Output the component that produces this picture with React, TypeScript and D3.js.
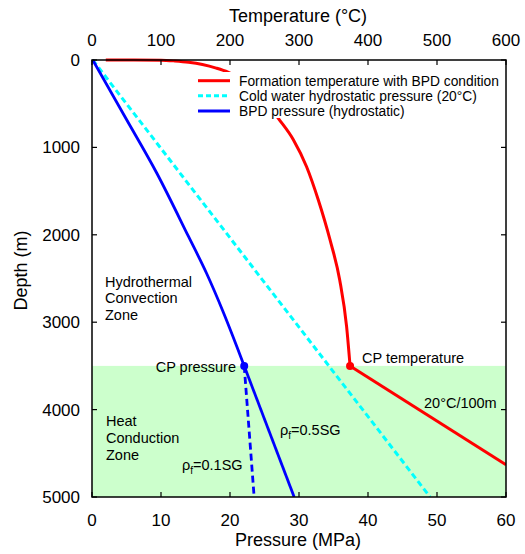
import * as d3 from "d3";

// axes
const pressureTicks = [0, 10, 20, 30, 40, 50, 60];
const tempTicks = [0, 100, 200, 300, 400, 500, 600];
const depthTicks = [0, 1000, 2000, 3000, 4000, 5000];

// formation temperature, boiling point with depth
const bpdDepth = [0, 0, 2, 11, 26, 52, 93, 140, 300, 450, 667, 915, 1221, 1602, 2059, 2517, 3051, 3500];
const bpdTemp = [20, 60, 100, 120, 140, 160, 180, 197, 230, 250, 270, 292, 311, 328, 345, 359, 369, 374];

// conduction zone, 20°C/100m
const condDepth = [3500, 4630];
const condTemp = [374, 600];

// cold water hydrostatic pressure (20°C)
const coldDepth = [0, 5000];
const coldP = [0.1, 49.0];

// BPD pressure (hydrostatic)
const bpdPDepth = [0, 667, 1296, 2022, 2440, 2880, 3280, 3500];
const bpdP = [0.1, 4.9, 9.4, 14.0, 16.6, 19.0, 21.0, 22.06];

// below critical point
const belowDepth = [3500, 5000];
const sg05P = [22.06, 29.3];
const sg01P = [22.06, 23.5];

const cp = { depth: 3500, p: 22.06, t: 374 };

const W = 525, H = 554;
const m = { left: 92, right: 506, top: 60, bottom: 497 };
const FONT = "Liberation Sans, Arial, sans-serif";

export default function App() {
  const x = d3.scaleLinear().domain([0, 60]).range([m.left, m.right]);
  const xt = d3.scaleLinear().domain([0, 600]).range([m.left, m.right]);
  const y = d3.scaleLinear().domain([0, 5000]).range([m.top, m.bottom]);

  const zip = (a: number[], b: number[]) => a.map((v, i) => [v, b[i]] as [number, number]);

  const tLine = d3.line<[number, number]>()
    .x(d => xt(d[0])).y(d => y(d[1]))
    .curve(d3.curveMonotoneX);
  const pLine = d3.line<[number, number]>()
    .x(d => x(d[0])).y(d => y(d[1]))
    .curve(d3.curveMonotoneX);

  const tick = 5;

  return (
    <svg width={W} height={H} style={{ position: "absolute", left: 0, top: 0, background: "#fff" }}
      fontFamily={FONT}>
      <defs>
        <clipPath id="plot">
          <rect x={m.left} y={m.top - 3} width={m.right - m.left} height={m.bottom - m.top + 3} />
        </clipPath>
      </defs>

      {/* heat conduction zone */}
      <rect x={m.left} y={y(3500)} width={m.right - m.left} height={y(5000) - y(3500)} fill="#ccffcc" />

      <g clipPath="url(#plot)" fill="none">
        <path d={pLine(zip(coldP, coldDepth)) || ""} stroke="#00ffff" strokeWidth={3} strokeDasharray="6,3.5" />
        <path d={pLine(zip(bpdP, bpdPDepth)) || ""} stroke="#0000ff" strokeWidth={2.8} />
        <path d={pLine(zip(sg05P, belowDepth)) || ""} stroke="#0000ff" strokeWidth={2.8} />
        <path d={pLine(zip(sg01P, belowDepth)) || ""} stroke="#0000ff" strokeWidth={2.8} strokeDasharray="7,4" />
        <path d={tLine(zip(bpdTemp, bpdDepth)) || ""} stroke="#ff0000" strokeWidth={3} />
        <path d={tLine(zip(condTemp, condDepth)) || ""} stroke="#ff0000" strokeWidth={3} />
      </g>

      <circle cx={x(cp.p)} cy={y(cp.depth)} r={4} fill="#0000ff" />
      <circle cx={xt(cp.t)} cy={y(cp.depth)} r={4} fill="#ff0000" />

      {/* legend */}
      <rect x={195} y={72} width={309} height={46} fill="#fff" />
      {[
        { label: "Formation temperature with BPD condition", color: "#ff0000", dash: "", cy: 80.7 },
        { label: "Cold water hydrostatic pressure (20\u00b0C)", color: "#00ffff", dash: "5,3", cy: 95.8 },
        { label: "BPD pressure (hydrostatic)", color: "#0000ff", dash: "", cy: 111 },
      ].map(d => (
        <g key={d.label}>
          <line x1={198} x2={230} y1={d.cy} y2={d.cy} stroke={d.color} strokeWidth={3} strokeDasharray={d.dash} />
          <text x={239} y={d.cy + 5} fontSize={13.8}>{d.label}</text>
        </g>
      ))}

      {/* frame */}
      <rect x={m.left} y={m.top} width={m.right - m.left} height={m.bottom - m.top}
        fill="none" stroke="#000" strokeWidth={1.5} />

      {/* ticks */}
      <g stroke="#000" strokeWidth={1.2}>
        {pressureTicks.map(t => (
          <line key={"b" + t} x1={x(t)} x2={x(t)} y1={m.bottom} y2={m.bottom - tick} />
        ))}
        {tempTicks.map(t => (
          <line key={"t" + t} x1={xt(t)} x2={xt(t)} y1={m.top} y2={m.top + tick} />
        ))}
        {depthTicks.map(t => (
          <g key={"d" + t}>
            <line x1={m.left} x2={m.left + tick} y1={y(t)} y2={y(t)} />
            <line x1={m.right} x2={m.right - tick} y1={y(t)} y2={y(t)} />
          </g>
        ))}
      </g>

      <g fontSize={17} fill="#000">
        {pressureTicks.map(t => (
          <text key={"bl" + t} x={x(t)} y={526} textAnchor="middle">{t}</text>
        ))}
        {tempTicks.map(t => (
          <text key={"tl" + t} x={xt(t)} y={46} textAnchor="middle">{t}</text>
        ))}
        {depthTicks.map(t => (
          <text key={"dl" + t} x={80} y={y(t) + 6} textAnchor="end">{t}</text>
        ))}
      </g>

      <g fontSize={18} fill="#000" textAnchor="middle">
        <text x={298} y={22}>Temperature (°C)</text>
        <text x={298} y={546}>Pressure (MPa)</text>
        <text transform={`translate(27,${(m.top + m.bottom) / 2 - 8}) rotate(-90)`}>Depth (m)</text>
      </g>

      {/* annotations */}
      <g fontSize={14.5} fill="#000">
        <text x={105} y={287}>Hydrothermal</text>
        <text x={105} y={303}>Convection</text>
        <text x={105} y={320}>Zone</text>
        <text x={106} y={426}>Heat</text>
        <text x={106} y={443}>Conduction</text>
        <text x={106} y={460}>Zone</text>
        <text x={236} y={372} textAnchor="end">CP pressure</text>
        <text x={362} y={363}>CP temperature</text>
        <text x={424} y={408}>20°C/100m</text>
        <text x={280} y={435}>ρ<tspan fontSize={10} dy={4}>f</tspan><tspan dy={-4}>=0.5SG</tspan></text>
        <text x={182} y={470}>ρ<tspan fontSize={10} dy={4}>f</tspan><tspan dy={-4}>=0.1SG</tspan></text>
      </g>
    </svg>
  );
}
